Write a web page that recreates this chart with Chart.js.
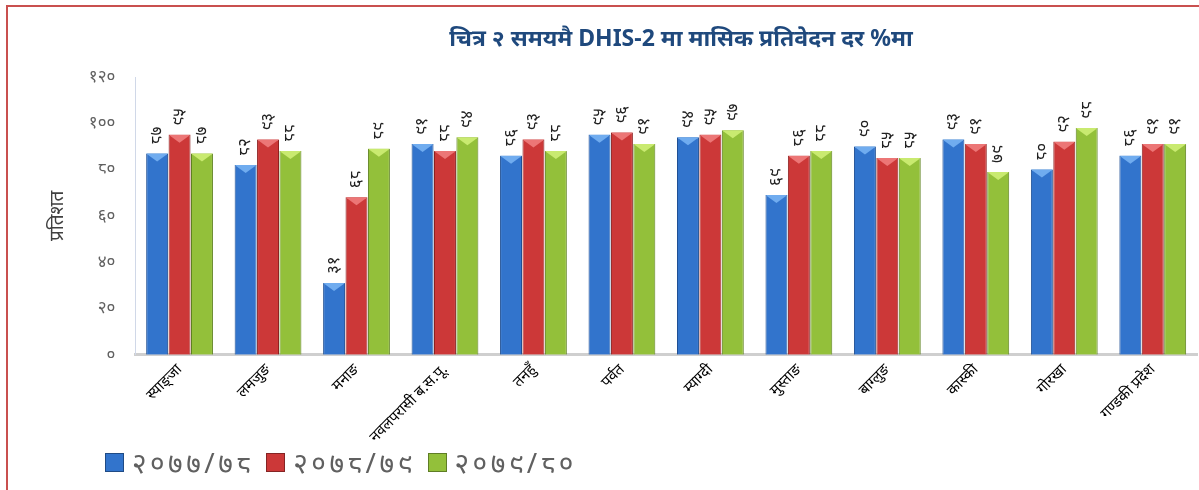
<!DOCTYPE html>
<html lang="ne">
<head>
    <meta charset="UTF-8">
    <title>समयमै DHIS-2 मा मासिक प्रतिवेदन दर</title>
    <style>
        body { margin: 0; background: #fff; font-family: 'Noto Sans', sans-serif; }
        #frame {
            position: absolute; left: 6px; top: 5px; width: 1193px; height: 485px;
            border-top: 2px solid #c9504f; border-left: 2px solid #c9504f;
            box-sizing: border-box;
        }
        #wrap { position: absolute; left: 0; top: 0; width: 1191px; height: 483px; }
        #title {
            position: absolute; left: 0; width: 1346px; top: 14px; text-align: center;
            color: #1f497d; font-weight: bold; font-size: 23px; margin: 0;
        }
        #legend {
            position: absolute; left: 97px; top: 436px; display: flex; gap: 12px;
            color: #606060; font-size: 28px; letter-spacing: 3.5px;
        }
        #legend span.item { display: flex; align-items: center; }
        #legend span.box {
            display: inline-block; width: 17px; height: 17px; margin-right: 8px;
            border: 1px solid rgba(0,0,0,0.35);
        }
    </style>
</head>
<body>
<div id="frame">
    <div id="wrap"><canvas id="rateChart"></canvas></div>
    <h1 id="title">चित्र २ समयमै DHIS-2 मा मासिक प्रतिवेदन दर %मा</h1>
    <div id="legend"></div>
</div>
<script src="https://cdn.jsdelivr.net/npm/chart.js"></script>
<script>
    const districts = ['स्याङ्जा', 'लमजुङ', 'मनाङ', 'नवलपरासी ब.स.पू.', 'तनहुँ', 'पर्वत', 'म्याग्दी', 'मुस्ताङ', 'बाग्लुङ', 'कास्की', 'गोरखा', 'गण्डकी प्रदेश'];
    const years = ['२०७७/७८', '२०७८/७९', '२०७९/८०'];
    const rate7778 = [87, 82, 31, 91, 86, 95, 94, 69, 90, 93, 80, 86];
    const rate7879 = [95, 93, 68, 88, 93, 96, 95, 86, 85, 91, 92, 91];
    const rate7980 = [87, 88, 89, 94, 88, 91, 97, 88, 85, 79, 98, 91];
    const yTicks = [0, 20, 40, 60, 80, 100, 120];

    const fills = ['#3274cc', '#cc3838', '#93c03a'];
    const edges = ['#1f4f94', '#8e2222', '#5f8220'];
    const bevels = ['#70acef', '#ec7676', '#c9ea70'];

    const devDigits = '०१२३४५६७८९';
    function toDev(n) {
        return String(n).replace(/[0-9]/g, d => devDigits[d]);
    }

    const devFont = "'Noto Sans', 'Noto Sans Devanagari', sans-serif";

    // rotated value labels above each bar
    const barLabels = {
        id: 'barLabels',
        afterDatasetsDraw(chart) {
            const ctx = chart.ctx;
            ctx.save();
            ctx.font = '17px ' + devFont;
            ctx.fillStyle = '#222';
            ctx.textAlign = 'left';
            ctx.textBaseline = 'middle';
            chart.data.datasets.forEach((ds, i) => {
                chart.getDatasetMeta(i).data.forEach((bar, j) => {
                    ctx.save();
                    ctx.translate(bar.x, bar.y - 9);
                    ctx.rotate(-Math.PI / 2);
                    ctx.fillText(toDev(ds.data[j]), 0, 0);
                    ctx.restore();
                });
            });
            ctx.restore();
        }
    };

    // small bevel on top of bars
    const barBevel = {
        id: 'barBevel',
        afterDatasetsDraw(chart) {
            const ctx = chart.ctx;
            ctx.save();
            chart.data.datasets.forEach((ds, i) => {
                chart.getDatasetMeta(i).data.forEach(bar => {
                    const half = bar.width / 2;
                    ctx.fillStyle = bevels[i];
                    ctx.beginPath();
                    ctx.moveTo(bar.x - half, bar.y);
                    ctx.lineTo(bar.x + half, bar.y);
                    ctx.lineTo(bar.x, bar.y + 8);
                    ctx.closePath();
                    ctx.fill();
                });
            });
            ctx.restore();
        }
    };

    const legend = document.getElementById('legend');
    years.forEach((y, i) => {
        legend.innerHTML += `<span class="item"><span class="box" style="background:${fills[i]}"></span>${y}</span>`;
    });

    const ctx = document.getElementById('rateChart').getContext('2d');
    new Chart(ctx, {
        type: 'bar',
        data: {
            labels: districts,
            datasets: [rate7778, rate7879, rate7980].map((d, i) => ({
                label: years[i], data: d,
                backgroundColor: fills[i], borderColor: edges[i], borderWidth: 1
            }))
        },
        options: {
            responsive: true,
            maintainAspectRatio: false,
            animation: false,
            layout: { padding: { left: 38, right: 2, top: 70, bottom: 38 } },
            datasets: { bar: { categoryPercentage: 0.76, barPercentage: 0.98 } },
            plugins: {
                legend: { display: false },
                tooltip: { enabled: false }
            },
            scales: {
                x: {
                    grid: { display: false, drawTicks: false },
                    border: { color: '#cfcfcf', width: 3 },
                    ticks: {
                        color: '#000',
                        font: { family: devFont, size: 15 },
                        maxRotation: 45,
                        minRotation: 45,
                        padding: 6
                    }
                },
                y: {
                    min: 0,
                    max: 120,
                    afterBuildTicks(axis) {
                        axis.ticks = yTicks.map(v => ({ value: v }));
                    },
                    grid: { display: false, drawTicks: false },
                    border: { color: '#d0d8e8', width: 1 },
                    ticks: {
                        color: '#606060',
                        font: { family: devFont, size: 17 },
                        padding: 20,
                        callback: v => toDev(v)
                    },
                    title: {
                        display: true,
                        text: 'प्रतिशत',
                        color: '#404040',
                        font: { family: devFont, size: 19 },
                        padding: 0
                    }
                }
            }
        },
        plugins: [barBevel, barLabels]
    });
</script>
</body>
</html>
